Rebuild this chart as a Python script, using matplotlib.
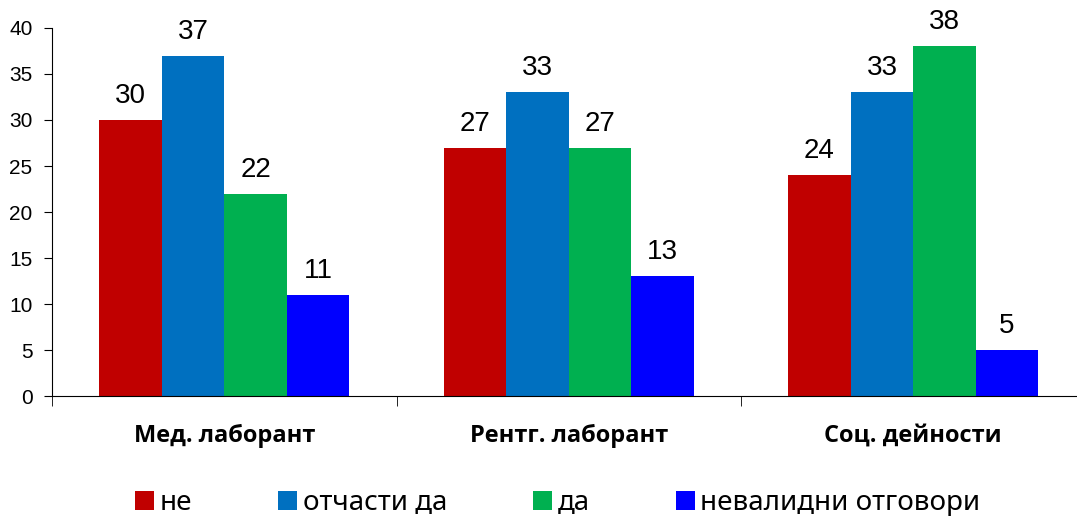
import numpy as np
from matplotlib import pyplot as plt

categories = ["Мед. лаборант", "Рентг. лаборант", "Соц. дейности"]
series_names = ["не", "отчасти да", "да", "невалидни отговори"]
ne = [30, 27, 24]
otchasti_da = [37, 33, 33]
da = [22, 27, 38]
nevalidni = [11, 13, 5]
colors = ["#C00000", "#0070C0", "#00B050", "#0000FF"]

plt.rcParams["font.family"] = ["Liberation Sans", "DejaVu Sans"]
label_font = ["Noto Sans", "DejaVu Sans"]
bold_font = ["Open Sans", "DejaVu Sans"]

fig = plt.figure(figsize=(10.77, 5.16), dpi=100)
ax = fig.add_axes([52 / 1077, 120 / 516, 1 - 52 / 1077, 368 / 516])

x = np.arange(len(categories))
width = 0.1815
values = [ne, otchasti_da, da, nevalidni]
for i, (name, vals, color) in enumerate(zip(series_names, values, colors)):
    pos = x + (i - 1.5) * width
    bars = ax.bar(pos, vals, width, color=color, label=name, linewidth=0)
    for b, v in zip(bars, vals):
        ax.text(b.get_x() + b.get_width() / 2, v + 1.2, str(v),
                ha="center", va="bottom", fontsize=20)

ax.set_xlim(-0.5, (1077 - 52) / 344.5 - 0.5)
ax.set_ylim(0, 40)
ax.set_yticks(range(0, 41, 5))
ax.tick_params(axis="y", labelsize=15, length=6, direction="out", pad=8)

ax.set_xticks(x)
ax.set_xticklabels(categories, fontsize=17, fontweight="bold", family=bold_font)
ax.tick_params(axis="x", which="major", length=0, pad=20)
ax.set_xticks([-0.5, 0.5, 1.5], minor=True)
ax.tick_params(axis="x", which="minor", length=7, direction="out")

for side in ["top", "right"]:
    ax.spines[side].set_visible(False)

fig.legend(loc="lower center", bbox_to_anchor=(0.518, -0.05), ncol=4,
           frameon=False, prop={"family": label_font, "size": 20},
           handlelength=0.68, handleheight=0.68,
           handletextpad=0.2, columnspacing=3.1)

plt.savefig("out.png", dpi=100)
